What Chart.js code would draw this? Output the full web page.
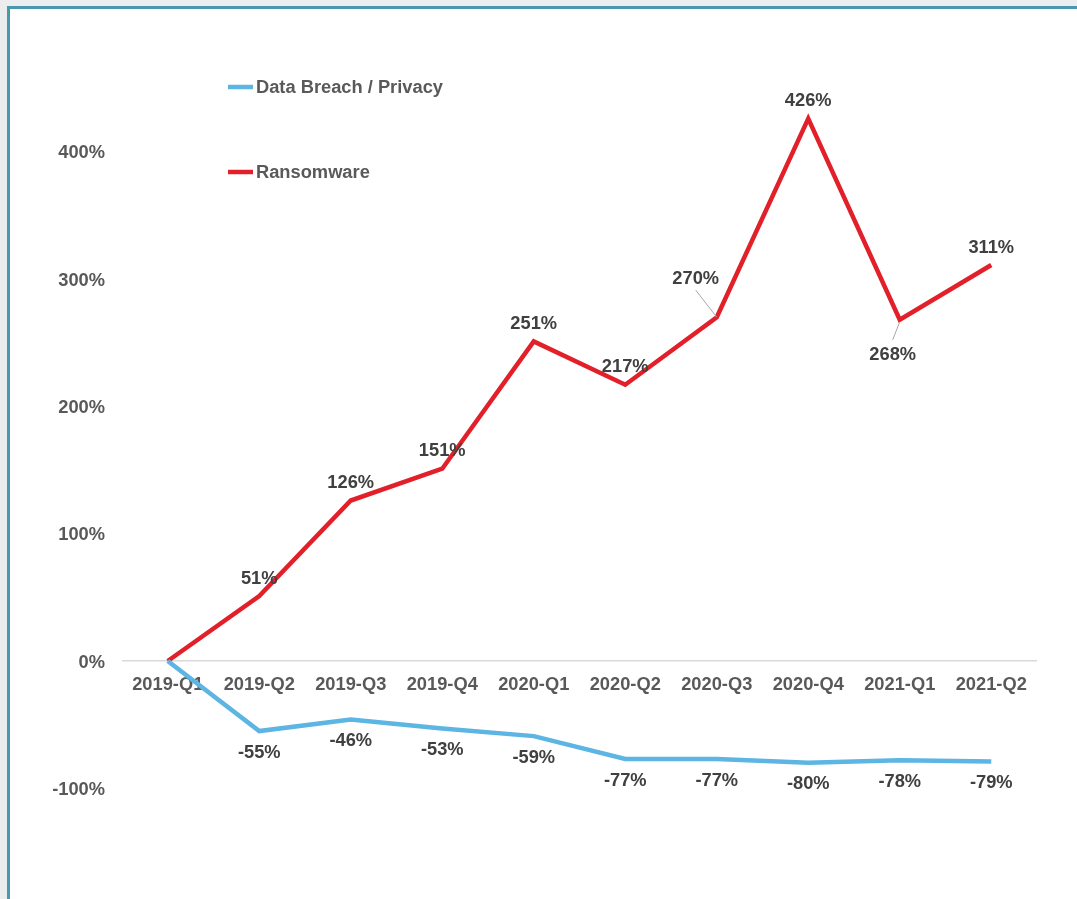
<!DOCTYPE html>
<html>
<head>
<meta charset="utf-8">
<script src="https://cdn.jsdelivr.net/npm/chart.js@4/dist/chart.umd.min.js"></script>
<style>
  html, body { margin: 0; padding: 0; background: #ebedef; width: 1077px; height: 899px; overflow: hidden; }
  #frame { position: absolute; left: 7px; top: 6px; width: 1200px; height: 1000px; background: #ffffff;
           border-left: 3px solid #4a98ae; border-top: 3px solid #4a98ae; }
  #c { position: absolute; left: 0; top: 0; }
</style>
</head>
<body>
<div id="frame"></div>
<canvas id="c" width="1077" height="899"></canvas>
<script>
// ---- data ----
const categories = ['2019-Q1','2019-Q2','2019-Q3','2019-Q4','2020-Q1','2020-Q2','2020-Q3','2020-Q4','2021-Q1','2021-Q2'];
const dataBreach = [0, -55, -46, -53, -59, -77, -77, -80, -78, -79];
const ransomware = [0, 51, 126, 151, 251, 217, 270, 426, 268, 311];
const yTickValues = [-100, 0, 100, 200, 300, 400];
const seriesNames = ['Data Breach / Privacy', 'Ransomware'];

// ---- styles ----
const BLUE = '#5cb5e2';
const RED = '#e2202a';
const FONT = '"Liberation Sans", Arial, sans-serif';
const FSIZE = 18.3;

// label placement: default offsets per dataset, and special-case overrides
const labelStyle = [
  { dx: 0, dy: 21.5 },
  { dx: 0, dy: -17.5 }
];
const labelOverrides = {
  1: {
    6: { dx: -21, dy: -38.5, leader: [[-21, -27], [0, 0]] },
    8: { dx: -7, dy: 35.5, leader: [[0, 2], [-7, 20]] }
  }
};

const labelPlugin = {
  id: 'dataLabels',
  afterDatasetsDraw(chart) {
    const ctx = chart.ctx;
    ctx.save();
    ctx.font = 'bold ' + FSIZE + 'px ' + FONT;
    ctx.fillStyle = '#404040';
    ctx.textAlign = 'center';
    ctx.textBaseline = 'middle';
    chart.data.datasets.forEach((ds, di) => {
      const meta = chart.getDatasetMeta(di);
      meta.data.forEach((pt, i) => {
        if (i === 0) return;
        const ov = (labelOverrides[di] && labelOverrides[di][i]) || labelStyle[di];
        if (ov.leader) {
          ctx.strokeStyle = '#a6a6a6';
          ctx.lineWidth = 1;
          ctx.beginPath();
          ctx.moveTo(pt.x + ov.leader[0][0], pt.y + ov.leader[0][1]);
          ctx.lineTo(pt.x + ov.leader[1][0], pt.y + ov.leader[1][1]);
          ctx.stroke();
        }
        ctx.fillText(ds.data[i] + '%', pt.x + ov.dx, pt.y + ov.dy);
      });
    });
    ctx.restore();
  }
};

const legendPlugin = {
  id: 'customLegend',
  afterDraw(chart) {
    const ctx = chart.ctx;
    ctx.save();
    ctx.font = 'bold ' + FSIZE + 'px ' + FONT;
    ctx.textAlign = 'left';
    ctx.textBaseline = 'middle';
    chart.data.datasets.forEach((ds, i) => {
      const y = 87 + i * 85;
      ctx.strokeStyle = ds.borderColor;
      ctx.lineWidth = 4.5;
      ctx.beginPath();
      ctx.moveTo(228, y);
      ctx.lineTo(253, y);
      ctx.stroke();
      ctx.fillStyle = '#595959';
      ctx.fillText(ds.label, 256, y + 1);
    });
    ctx.restore();
  }
};

new Chart(document.getElementById('c'), {
  type: 'line',
  data: {
    labels: categories,
    datasets: [
      { label: seriesNames[0], data: dataBreach, borderColor: BLUE, backgroundColor: BLUE,
        borderWidth: 4.5, pointRadius: 0, tension: 0, borderJoinStyle: 'miter', fill: false },
      { label: seriesNames[1], data: ransomware, borderColor: RED, backgroundColor: RED,
        borderWidth: 4.5, pointRadius: 0, tension: 0, borderJoinStyle: 'miter', fill: false }
    ]
  },
  options: {
    responsive: false,
    animation: false,
    layout: { padding: { top: 88, bottom: 47, left: 0, right: 40 } },
    plugins: { legend: { display: false }, tooltip: { enabled: false } },
    scales: {
      x: {
        position: { y: 0 },
        offset: true,
        grid: { display: false, drawTicks: false },
        border: { display: false },
        ticks: { color: '#595959', font: { family: FONT, size: FSIZE, weight: 'bold' }, padding: 13, maxRotation: 0, autoSkip: false },
        afterFit(scale) { scale.height = 0; }
      },
      y: {
        min: -150,
        max: 450,
        grid: {
          drawTicks: false,
          color: (c) => (c.tick && c.tick.value === 0) ? '#d9d9d9' : 'rgba(0,0,0,0)',
          lineWidth: 1.5
        },
        border: { display: false },
        ticks: {
          color: '#595959',
          font: { family: FONT, size: FSIZE, weight: 'bold' },
          padding: 17,
          labelOffset: 1.5,
          callback: (v) => v + '%'
        },
        afterBuildTicks(scale) { scale.ticks = yTickValues.map(v => ({ value: v })); },
        afterFit(scale) { scale.width = 122; }
      }
    }
  },
  plugins: [labelPlugin, legendPlugin]
});
</script>
</body>
</html>
